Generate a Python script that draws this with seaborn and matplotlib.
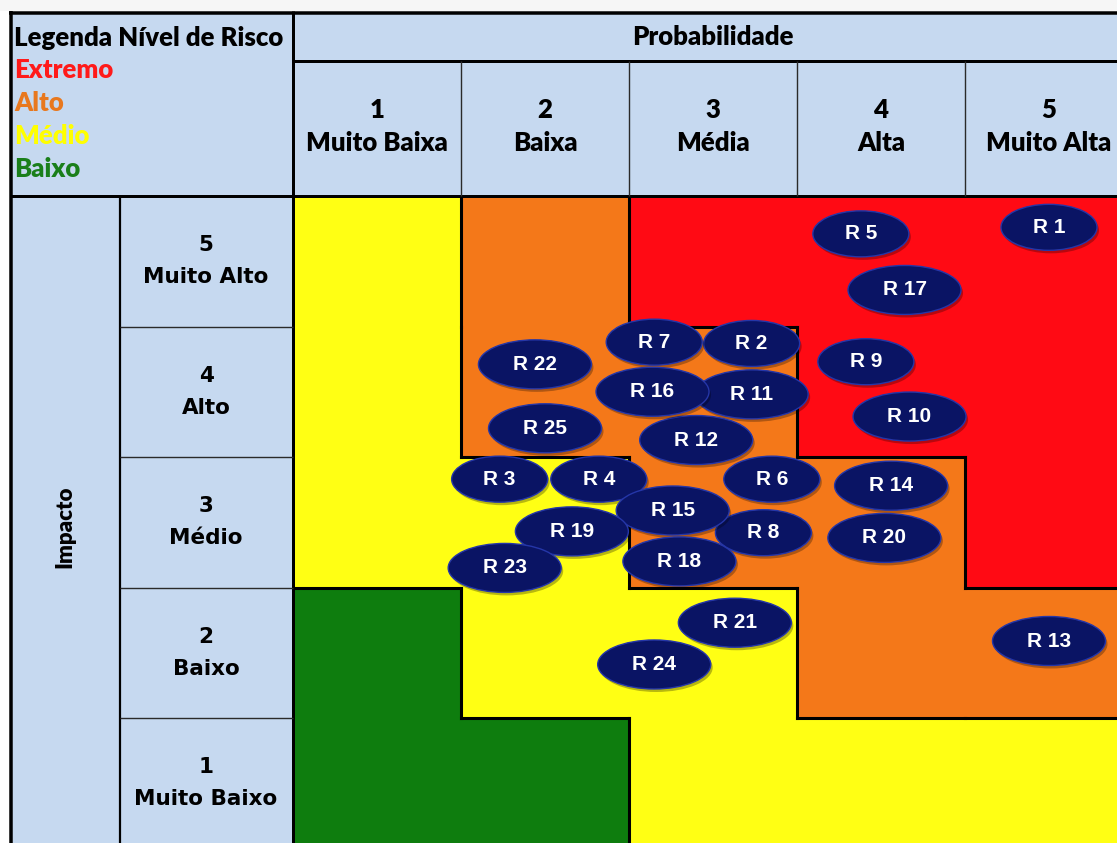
import numpy as np
import pandas as pd
import matplotlib
matplotlib.use("Agg")
import matplotlib.pyplot as plt
from matplotlib.colors import ListedColormap
from matplotlib.patches import Ellipse, Rectangle
import seaborn as sns

# ---------------- data ----------------
prob_numbers = ["1", "2", "3", "4", "5"]
prob_labels = ["Muito Baixa", "Baixa", "Média", "Alta", "Muito Alta"]
impact_numbers = ["5", "4", "3", "2", "1"]
impact_labels = ["Muito Alto", "Alto", "Médio", "Baixo", "Muito Baixo"]

level_names = ["Extremo", "Alto", "Médio", "Baixo"]
level_text_colors = ["#FF1A1A", "#E8781E", "#FFFF00", "#1A7F1A"]

# risk level per cell (rows: impact 5 -> 1, cols: probability 1 -> 5)
# 0 = Baixo, 1 = Médio, 2 = Alto, 3 = Extremo
risk_levels = [
    [1, 2, 3, 3, 3],
    [1, 2, 2, 3, 3],
    [1, 1, 2, 2, 3],
    [0, 1, 1, 2, 2],
    [0, 0, 1, 1, 1],
]

risk_ids = [1, 2, 3, 4, 5, 6, 7, 8, 9, 10, 11, 12, 13, 14, 15, 16, 17,
            18, 19, 20, 21, 22, 23, 24, 25]
# probability (x) and impact (y) positions, continuous
risk_prob = [5.00, 3.23, 1.73, 2.32, 3.88, 3.35, 2.65, 3.30, 3.91, 4.17,
             3.23, 2.90, 5.00, 4.06, 2.76, 2.64, 4.14, 2.80, 2.16, 4.02,
             3.13, 1.94, 1.76, 2.65, 2.00]
risk_impact = [5.26, 4.37, 3.33, 3.33, 5.21, 3.33, 4.38, 2.92, 4.23, 3.81,
               3.98, 3.63, 2.09, 3.28, 3.09, 4.00, 4.78, 2.70, 2.93, 2.88,
               2.23, 4.21, 2.65, 1.91, 3.72]

# ---------------- figure ----------------
W, H = 1117, 843
COLW, ROWH = 168.0, 130.5
GX0, GY0 = 293.0, 196.0

fig = plt.figure(figsize=(W / 100, H / 100), dpi=100)
fig.patch.set_facecolor("white")

head_font = ["Lato", "DejaVu Sans"]
row_font = ["DejaVu Sans"]
bubble_font = ["Liberation Sans", "DejaVu Sans"]
HEAD_BG = "#C6D9F0"
HEAD_FS = 18.5
HEAD_W = "heavy"

# background / table axes in pixel coordinates
ax_bg = fig.add_axes([0, 0, 1, 1])
ax_bg.set_xlim(0, W)
ax_bg.set_ylim(H, 0)
ax_bg.axis("off")

# faint page shadow at the top
ax_bg.add_patch(Rectangle((0, 0), W, 11, facecolor="#F6F6F6", edgecolor="none"))
ax_bg.add_patch(Rectangle((10, 12), GX0 + 5 * COLW - 10, GY0 + 5 * ROWH - 12,
                          facecolor=HEAD_BG, edgecolor="none"))

# grid axes (heatmap)
gx_left = GX0 / W
g_w = 5 * COLW / W
g_h = 5 * ROWH / H
g_bottom = (H - (GY0 + 5 * ROWH)) / H
ax = fig.add_axes([gx_left, g_bottom, g_w, g_h])

level_colors = ["#0E7D0E", "#FFFF14", "#F47819", "#FF0A14"]
df = pd.DataFrame(risk_levels, index=impact_numbers, columns=prob_numbers)
sns.heatmap(df, ax=ax, cmap=ListedColormap(level_colors), vmin=-0.5, vmax=3.5,
            cbar=False, linewidths=0, xticklabels=False, yticklabels=False)
ax.set_xticks([])
ax.set_yticks([])
ax.set_xlabel("")
ax.set_ylabel("")
for s in ax.spines.values():
    s.set_visible(False)

# region boundaries
arr = np.array(risk_levels)
nr, nc = arr.shape
blw = 2.2
for i in range(nr):
    for j in range(nc - 1):
        if arr[i, j] != arr[i, j + 1]:
            ax.plot([j + 1, j + 1], [i, i + 1], color="black", lw=blw,
                    solid_capstyle="projecting", zorder=2)
for i in range(nr - 1):
    for j in range(nc):
        if arr[i, j] != arr[i + 1, j]:
            ax.plot([j, j + 1], [i + 1, i + 1], color="black", lw=blw,
                    solid_capstyle="projecting", zorder=2)

# risk bubbles
for rid, px, py in zip(risk_ids, risk_prob, risk_impact):
    hx = px - 0.5
    hy = 5.5 - py
    label = f"R {rid}"
    if rid >= 10:
        ew, eh = 113 / COLW, 49 / ROWH
    else:
        ew, eh = 96 / COLW, 46 / ROWH
    z = 3 + rid * 0.01
    ax.add_patch(Ellipse((hx + 2 / COLW, hy + 3 / ROWH), ew, eh,
                         facecolor="black", edgecolor="none", alpha=0.28, zorder=z))
    ax.add_patch(Ellipse((hx, hy), ew, eh, facecolor="#0A1464",
                         edgecolor="#2536A8", lw=1.0, zorder=z + 0.001))
    ax.text(hx, hy, label, ha="center", va="center", color="white",
            fontsize=15, fontweight="bold", family=bubble_font, zorder=z + 0.002)

# overlay axes for table lines and text
ax_top = fig.add_axes([0, 0, 1, 1])
ax_top.set_xlim(0, W)
ax_top.set_ylim(H, 0)
ax_top.axis("off")
ax_top.patch.set_alpha(0)

def px_lw(p):
    return p * 0.72

def hline(y, x0, x1, w, c="black"):
    ax_top.plot([x0, x1], [y, y], color=c, lw=px_lw(w), solid_capstyle="butt")

def vline(x, y0, y1, w, c="black"):
    ax_top.plot([x, x], [y0, y1], color=c, lw=px_lw(w), solid_capstyle="butt")

hline(12.5, 9, W, 3.5)
vline(11, 11, H, 3.5)
hline(60.5, GX0, W, 3)
hline(GY0, 9.5, W, 3)
vline(GX0, 11, H, 3)
vline(120, GY0, H, 2.2)
for k in range(1, 5):
    vline(GX0 + k * COLW, 61, GY0, 1.4, "#2a2a2a")
    hline(GY0 + k * ROWH, 120, GX0, 1.4, "#2a2a2a")

# legend cell
ax_top.text(14, 38, "Legenda Nível de Risco", ha="left", va="center",
            fontsize=HEAD_FS, fontweight=HEAD_W, family=head_font, color="black")
for k, (nm, col) in enumerate(zip(level_names, level_text_colors)):
    ax_top.text(14, 70 + k * 33, nm, ha="left", va="center",
                fontsize=HEAD_FS, fontweight=HEAD_W, family=head_font, color=col)

# column headers
ax_top.text(GX0 + 2.5 * COLW, 37, "Probabilidade", ha="center", va="center",
            fontsize=HEAD_FS, fontweight=HEAD_W, family=head_font)
for k, (n, lab) in enumerate(zip(prob_numbers, prob_labels)):
    cx = GX0 + (k + 0.5) * COLW
    ax_top.text(cx, 110, n, ha="center", va="center", fontsize=HEAD_FS,
                fontweight=HEAD_W, family=head_font)
    ax_top.text(cx, 143, lab, ha="center", va="center", fontsize=HEAD_FS,
                fontweight=HEAD_W, family=head_font)

# row headers
for k, (n, lab) in enumerate(zip(impact_numbers, impact_labels)):
    cy = GY0 + (k + 0.5) * ROWH
    ax_top.text(206, cy - 16, n, ha="center", va="center", fontsize=15.5,
                fontweight="bold", family=row_font)
    ax_top.text(206, cy + 16, lab, ha="center", va="center", fontsize=15.5,
                fontweight="bold", family=row_font)

ax_top.text(65, 527, "Impacto", ha="center", va="center", rotation=90,
            fontsize=16, fontweight=HEAD_W, family=head_font)

fig.savefig("out.png", dpi=100, facecolor="white")
